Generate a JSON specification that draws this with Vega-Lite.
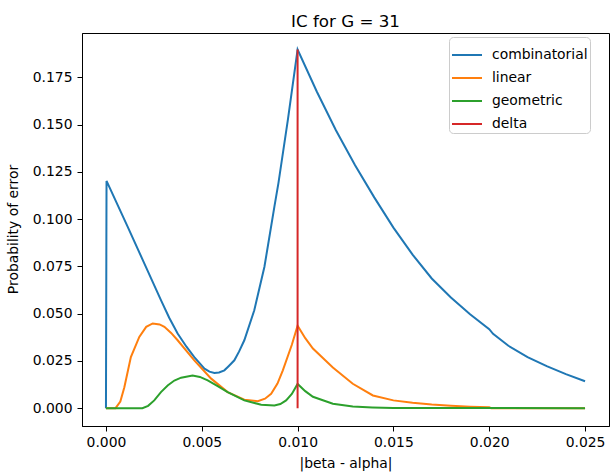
{
  "$schema": "https://vega.github.io/schema/vega-lite/v6.json",
  "autosize": {"type": "none"},
  "width": 527,
  "height": 393,
  "padding": {"left": 82, "top": 33, "right": 1, "bottom": 49},
  "background": "white",
  "title": {"text": "IC for G = 31", "font": "DejaVu Sans", "fontSize": 16.7, "fontWeight": "normal", "color": "black", "anchor": "middle", "baseline": "alphabetic", "offset": 6, "dy": 17},
  "config": {
    "view": {"stroke": "black", "strokeWidth": 1},
    "axis": {"grid": false, "domainColor": "black", "domainWidth": 1, "tickColor": "black", "tickSize": 5, "tickWidth": 1, "labelFont": "DejaVu Sans", "labelFontSize": 13.9, "labelColor": "black", "titleFont": "DejaVu Sans", "titleFontSize": 13.9, "titleFontWeight": "normal", "titleColor": "black", "labelPadding": 4},
    "legend": {"labelFont": "DejaVu Sans", "labelFontSize": 13.9, "labelColor": "black"}
  },
  "data": {"values": [
    {"series": "combinatorial", "x": 0, "y": 0},
    {"series": "combinatorial", "x": 0.00003, "y": 0.1202},
    {"series": "combinatorial", "x": 0.00113, "y": 0.096},
    {"series": "combinatorial", "x": 0.0020, "y": 0.0766},
    {"series": "combinatorial", "x": 0.00287, "y": 0.0571},
    {"series": "combinatorial", "x": 0.0033, "y": 0.0478},
    {"series": "combinatorial", "x": 0.00374, "y": 0.0395},
    {"series": "combinatorial", "x": 0.0042, "y": 0.0325},
    {"series": "combinatorial", "x": 0.00461, "y": 0.027},
    {"series": "combinatorial", "x": 0.00514, "y": 0.0209},
    {"series": "combinatorial", "x": 0.0054, "y": 0.0193},
    {"series": "combinatorial", "x": 0.00566, "y": 0.0186},
    {"series": "combinatorial", "x": 0.0059, "y": 0.0189},
    {"series": "combinatorial", "x": 0.00618, "y": 0.0200},
    {"series": "combinatorial", "x": 0.0064, "y": 0.0222},
    {"series": "combinatorial", "x": 0.0067, "y": 0.0253},
    {"series": "combinatorial", "x": 0.00695, "y": 0.0300},
    {"series": "combinatorial", "x": 0.00722, "y": 0.0359},
    {"series": "combinatorial", "x": 0.00774, "y": 0.0518},
    {"series": "combinatorial", "x": 0.00827, "y": 0.0748},
    {"series": "combinatorial", "x": 0.00879, "y": 0.1066},
    {"series": "combinatorial", "x": 0.0090, "y": 0.119},
    {"series": "combinatorial", "x": 0.0095, "y": 0.153},
    {"series": "combinatorial", "x": 0.0100, "y": 0.1897},
    {"series": "combinatorial", "x": 0.0110, "y": 0.1675},
    {"series": "combinatorial", "x": 0.0120, "y": 0.147},
    {"series": "combinatorial", "x": 0.0130, "y": 0.1285},
    {"series": "combinatorial", "x": 0.0140, "y": 0.1115},
    {"series": "combinatorial", "x": 0.0150, "y": 0.0955},
    {"series": "combinatorial", "x": 0.0160, "y": 0.0812},
    {"series": "combinatorial", "x": 0.0170, "y": 0.0686},
    {"series": "combinatorial", "x": 0.0180, "y": 0.0585},
    {"series": "combinatorial", "x": 0.0190, "y": 0.0497},
    {"series": "combinatorial", "x": 0.0200, "y": 0.0418},
    {"series": "combinatorial", "x": 0.0202, "y": 0.0393},
    {"series": "combinatorial", "x": 0.0210, "y": 0.0330},
    {"series": "combinatorial", "x": 0.0220, "y": 0.0270},
    {"series": "combinatorial", "x": 0.0230, "y": 0.0222},
    {"series": "combinatorial", "x": 0.0240, "y": 0.0180},
    {"series": "combinatorial", "x": 0.0250, "y": 0.0142},
    {"series": "linear", "x": 0, "y": 0},
    {"series": "linear", "x": 0.0005, "y": 0},
    {"series": "linear", "x": 0.00075, "y": 0.0035},
    {"series": "linear", "x": 0.00096, "y": 0.0111},
    {"series": "linear", "x": 0.0013, "y": 0.027},
    {"series": "linear", "x": 0.00174, "y": 0.0377},
    {"series": "linear", "x": 0.0021, "y": 0.043},
    {"series": "linear", "x": 0.00244, "y": 0.0448},
    {"series": "linear", "x": 0.0028, "y": 0.0443},
    {"series": "linear", "x": 0.00305, "y": 0.043},
    {"series": "linear", "x": 0.0034, "y": 0.0398},
    {"series": "linear", "x": 0.00374, "y": 0.0359},
    {"series": "linear", "x": 0.00461, "y": 0.0253},
    {"series": "linear", "x": 0.00549, "y": 0.0156},
    {"series": "linear", "x": 0.00635, "y": 0.0085},
    {"series": "linear", "x": 0.00722, "y": 0.0045},
    {"series": "linear", "x": 0.00792, "y": 0.0037},
    {"series": "linear", "x": 0.0083, "y": 0.0050},
    {"series": "linear", "x": 0.00862, "y": 0.0076},
    {"series": "linear", "x": 0.00895, "y": 0.0130},
    {"series": "linear", "x": 0.00923, "y": 0.0200},
    {"series": "linear", "x": 0.0097, "y": 0.0335},
    {"series": "linear", "x": 0.0100, "y": 0.0436},
    {"series": "linear", "x": 0.0104, "y": 0.0370},
    {"series": "linear", "x": 0.0108, "y": 0.0315},
    {"series": "linear", "x": 0.01184, "y": 0.0215},
    {"series": "linear", "x": 0.01288, "y": 0.0129},
    {"series": "linear", "x": 0.01393, "y": 0.0067},
    {"series": "linear", "x": 0.0150, "y": 0.0041},
    {"series": "linear", "x": 0.0160, "y": 0.0028},
    {"series": "linear", "x": 0.0170, "y": 0.0019},
    {"series": "linear", "x": 0.0180, "y": 0.0013},
    {"series": "linear", "x": 0.0190, "y": 0.0008},
    {"series": "linear", "x": 0.0200, "y": 0.0005},
    {"series": "linear", "x": 0.0201, "y": 0},
    {"series": "linear", "x": 0.0250, "y": 0},
    {"series": "geometric", "x": 0, "y": 0},
    {"series": "geometric", "x": 0.0019, "y": 0},
    {"series": "geometric", "x": 0.0022, "y": 0.0012},
    {"series": "geometric", "x": 0.00252, "y": 0.0041},
    {"series": "geometric", "x": 0.00287, "y": 0.0085},
    {"series": "geometric", "x": 0.00322, "y": 0.012},
    {"series": "geometric", "x": 0.00357, "y": 0.0146},
    {"series": "geometric", "x": 0.00392, "y": 0.0161},
    {"series": "geometric", "x": 0.00452, "y": 0.0172},
    {"series": "geometric", "x": 0.0049, "y": 0.0165},
    {"series": "geometric", "x": 0.00531, "y": 0.0147},
    {"series": "geometric", "x": 0.00583, "y": 0.0116},
    {"series": "geometric", "x": 0.00635, "y": 0.0085},
    {"series": "geometric", "x": 0.00722, "y": 0.0041},
    {"series": "geometric", "x": 0.0081, "y": 0.0018},
    {"series": "geometric", "x": 0.00879, "y": 0.0014},
    {"series": "geometric", "x": 0.0091, "y": 0.0022},
    {"series": "geometric", "x": 0.0094, "y": 0.0041},
    {"series": "geometric", "x": 0.0097, "y": 0.0075},
    {"series": "geometric", "x": 0.0100, "y": 0.0128},
    {"series": "geometric", "x": 0.0104, "y": 0.0090},
    {"series": "geometric", "x": 0.0108, "y": 0.0060},
    {"series": "geometric", "x": 0.01184, "y": 0.0023},
    {"series": "geometric", "x": 0.01288, "y": 0.0009},
    {"series": "geometric", "x": 0.0139, "y": 0.0004},
    {"series": "geometric", "x": 0.0150, "y": 0.0001},
    {"series": "geometric", "x": 0.0250, "y": 0},
    {"series": "delta", "x": 0.01, "y": 0},
    {"series": "delta", "x": 0.01, "y": 0.1897}
  ]},
  "encoding": {
    "x": {"field": "x", "type": "quantitative", "title": "|beta - alpha|",
      "scale": {"domain": [-0.00125, 0.02625], "nice": false, "zero": false},
      "axis": {"values": [0, 0.005, 0.01, 0.015, 0.02, 0.025], "format": ".3f", "titleBaseline": "middle", "titleY": 37}},
    "y": {"field": "y", "type": "quantitative", "title": "Probability of error",
      "scale": {"domain": [-0.00945, 0.19845], "nice": false, "zero": false},
      "axis": {"values": [0, 0.025, 0.05, 0.075, 0.1, 0.125, 0.15, 0.175], "format": ".3f", "labelPadding": 5, "titleX": -69, "titleY": 196, "titleAngle": -90, "titleAlign": "center", "titleBaseline": "middle"}},
    "color": {"field": "series", "type": "nominal",
      "scale": {"domain": ["combinatorial", "linear", "geometric", "delta"], "range": ["#1f77b4", "#ff7f0e", "#2ca02c", "#d62728"]},
      "legend": {"title": null, "orient": "none", "legendX": 367, "legendY": 4, "fillColor": "white", "strokeColor": "#cccccc", "cornerRadius": 4, "padding": 2, "rowPadding": -3, "symbolType": "stroke", "symbolSize": 900, "symbolStrokeWidth": 2, "labelOffset": 9}},
    "order": {"value": null}
  },
  "layer": [
    {"transform": [{"filter": "datum.series === 'combinatorial'"}], "mark": {"type": "line", "strokeWidth": 2}},
    {"transform": [{"filter": "datum.series === 'linear'"}], "mark": {"type": "line", "strokeWidth": 2}},
    {"transform": [{"filter": "datum.series === 'geometric'"}], "mark": {"type": "line", "strokeWidth": 2}},
    {"transform": [{"filter": "datum.series === 'delta'"}], "mark": {"type": "line", "strokeWidth": 2}}
  ]
}
